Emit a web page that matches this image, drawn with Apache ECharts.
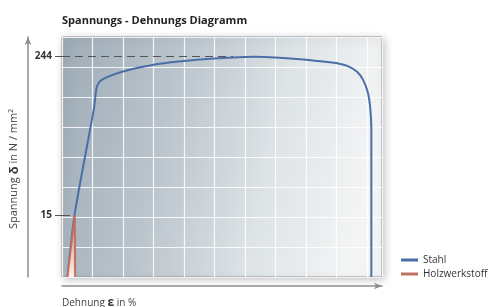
<!DOCTYPE html>
<html>
<head>
<meta charset="utf-8">
<script src="https://cdn.jsdelivr.net/npm/echarts@6/dist/echarts.min.js"></script>
<style>
  html, body { margin: 0; padding: 0; background: #fff; }
  #chart { width: 497px; height: 307px; }
</style>
</head>
<body>
<div id="chart"></div>
<script>
// Diagram units: x and y in grid cells (schematic chart, no real scale)
const stahlX = [0.18, 0.41, 1.05, 1.12, 1.18, 1.30, 1.57, 2.00, 2.56, 3.22, 4.53, 5.61, 6.33, 6.99, 7.81, 8.56, 9.06, 9.38, 9.68, 9.88, 10.04, 10.12, 10.15, 10.15];
const stahlY = [0, 2.07, 5.63, 6.23, 6.43, 6.57, 6.70, 6.85, 6.99, 7.11, 7.25, 7.32, 7.34, 7.32, 7.26, 7.18, 7.12, 7.03, 6.84, 6.57, 6.13, 5.57, 4.90, 0];

const holzX = [0.18, 0.42, 0.43];
const holzY = [0, 2.07, 0];

const yTickValues = [2.07, 7.37];
const yTickLabels = ['15', '244'];

const seriesNames = ['Stahl', 'Holzwerkstoff'];
const seriesColors = ['#4a6fa8', '#c2705f'];

const zip = (xs, ys) => xs.map((x, i) => [x, ys[i]]);

const stahl = zip(stahlX, stahlY);
const holz = zip(holzX, holzY);

// end of the dashed 244 line: where the curve reaches the top level
const peakPoint = stahl.find((p) => p[1] >= 7.3);
const holzTop = holz[1];

const font = 'Open Sans';
const gridLine = { show: true, lineStyle: { color: 'rgba(255,255,255,0.85)', width: 1.2 } };
const arrowLine = {
  show: true,
  onZero: false,
  symbol: ['none', 'arrow'],
  symbolSize: [5, 8],
  lineStyle: { color: '#8a8d90', width: 1.5 },
};

const chart = echarts.init(document.getElementById('chart'));

const option = {
  animation: false,
  title: [
    {
      text: 'Spannungs - Dehnungs Diagramm',
      left: 57,
      top: 10,
      textStyle: { fontFamily: font, fontSize: 11, fontWeight: 'bold', color: '#222' },
    },
    {
      text: 'Dehnung {e|ε} in %',
      left: 57,
      top: 292,
      textStyle: {
        fontFamily: font, fontSize: 10, fontWeight: 'normal', color: '#444',
        rich: { e: { fontSize: 12, fontWeight: 'bold', color: '#333' } },
      },
    },
  ],
  graphic: [
    {
      type: 'text',
      x: 14,
      y: 169,
      rotation: Math.PI / 2,
      style: {
        text: 'Spannung {d|δ} in N / mm²',
        fontFamily: font,
        fontSize: 11,
        fill: '#444',
        align: 'center',
        verticalAlign: 'middle',
        rich: { d: { fontSize: 13, fontWeight: 'bold', fill: '#333' } },
      },
    },
  ],
  legend: {
    data: seriesNames,
    orient: 'vertical',
    left: 396,
    top: 250,
    itemWidth: 17,
    itemHeight: 3,
    itemGap: 4,
    icon: 'rect',
    textStyle: { fontFamily: font, fontSize: 10, color: '#333' },
  },
  grid: {
    left: 62,
    top: 37,
    width: 320,
    height: 240,
    show: true,
    borderWidth: 1,
    borderColor: '#8a8f94',
    shadowBlur: 8,
    shadowColor: 'rgba(0,0,0,0.25)',
    shadowOffsetX: 2,
    shadowOffsetY: 2,
    backgroundColor: new echarts.graphic.LinearGradient(0, 0, 1, 0.3, [
      { offset: 0, color: '#9eacb7' },
      { offset: 0.35, color: '#b9c3cb' },
      { offset: 0.7, color: '#dde3e6' },
      { offset: 1, color: '#f3f4f5' },
    ]),
  },
  xAxis: [
    {
      type: 'value',
      min: 0,
      max: 10.5,
      interval: 1,
      axisLine: { show: false },
      axisTick: { show: false },
      axisLabel: { show: false },
      splitLine: gridLine,
    },
    {
      type: 'value',
      min: 0,
      max: 10.5,
      position: 'bottom',
      offset: 9,
      axisLine: arrowLine,
      axisTick: { show: false },
      axisLabel: { show: false },
      splitLine: { show: false },
    },
  ],
  yAxis: [
    {
      type: 'value',
      min: 0,
      max: 8,
      interval: 1,
      axisLine: { show: false },
      axisTick: { show: false },
      axisLabel: { show: false },
      splitLine: gridLine,
    },
    {
      type: 'value',
      min: 0,
      max: 8,
      position: 'left',
      offset: 34,
      axisLine: arrowLine,
      axisTick: { show: false },
      axisLabel: { show: false },
      splitLine: { show: false },
    },
    {
      // only the two marked stress values
      type: 'value',
      min: 0,
      max: 8,
      position: 'left',
      offset: 0,
      axisLine: { show: false, onZero: false },
      axisTick: {
        show: true,
        length: 7,
        customValues: yTickValues,
        lineStyle: { color: '#555', width: 1 },
      },
      axisLabel: {
        show: true,
        margin: 10,
        customValues: yTickValues,
        formatter: (v) => yTickLabels[yTickValues.indexOf(v)] || '',
        fontFamily: font,
        fontSize: 10,
        fontWeight: 'bold',
        color: '#333',
      },
      splitLine: { show: false },
    },
  ],
  series: [
    {
      name: seriesNames[0],
      type: 'line',
      data: stahl,
      showSymbol: false,
      smooth: 0.2,
      color: seriesColors[0],
      lineStyle: { width: 2, color: seriesColors[0] },
      z: 2,
      markLine: {
        silent: true,
        symbol: 'none',
        label: { show: false },
        lineStyle: { type: [8, 5], color: '#555', width: 1 },
        data: [
          [{ coord: [0, yTickValues[1]] }, { coord: [peakPoint[0], yTickValues[1]] }],
          [{ coord: [0, yTickValues[0]] }, { coord: [holzTop[0], yTickValues[0]] }],
        ],
      },
    },
    {
      name: seriesNames[1],
      type: 'line',
      data: holz,
      showSymbol: false,
      color: seriesColors[1],
      lineStyle: { width: 2, color: seriesColors[1] },
      areaStyle: {
        opacity: 1,
        color: new echarts.graphic.LinearGradient(0, 0, 0, 1, [
          { offset: 0, color: '#c98a7c' },
          { offset: 1, color: '#fbeeea' },
        ]),
      },
      z: 3,
    },
  ],
};

chart.setOption(option);
</script>
</body>
</html>
